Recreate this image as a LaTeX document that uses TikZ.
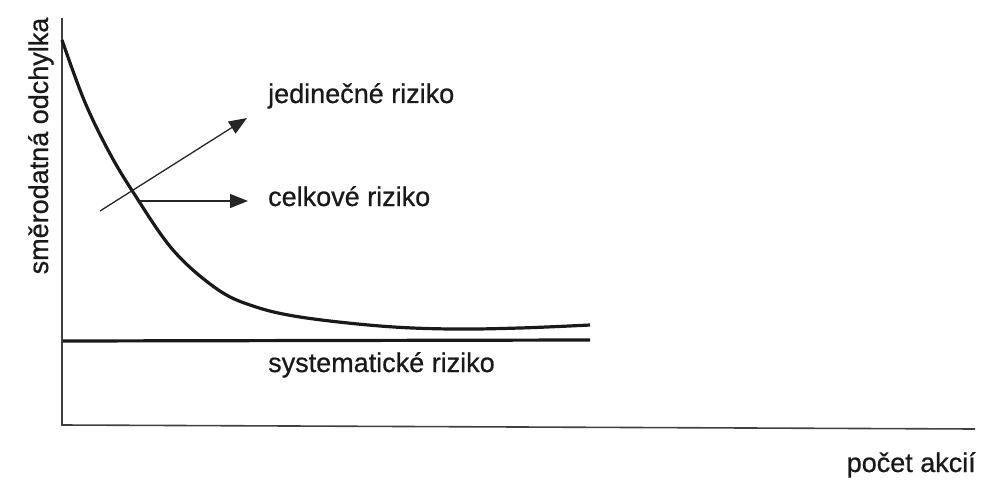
\documentclass[tikz,border=0pt]{standalone}
\usepackage{fontspec}
\setmainfont{Liberation Sans}
\newfontfamily\lblfont[FakeBold=0.7]{Liberation Sans}
\usetikzlibrary{arrows.meta}
\tikzset{
  lbl/.style={inner sep=0pt, font=\lblfont\fontsize{27}{32}\selectfont, text=black!90},
  axisline/.style={line width=1.6pt, draw=black!75},
  thick curve/.style={line width=3.2pt, draw=black!90, line cap=butt},
  pointer/.style={line width=1.3pt, draw=black!85, -{Triangle[length=18pt,width=14pt]}}
}
\begin{document}
\begin{tikzpicture}[x=1pt,y=-1pt]
\useasboundingbox (0,0) rectangle (981,481);
% axes
\coordinate (o) at (62,425);
\coordinate (ytop) at (62,18);
\coordinate (xend) at (975,429);
\draw[axisline] (ytop) -- (o) -- (xend);
% systematic risk line
\coordinate (s0) at (63,341);
\coordinate (s1) at (590,340);
\draw[thick curve] (s0) -- (s1);
% total risk curve
\draw[thick curve] plot[smooth, tension=0.6] coordinates {(62,40) (84,100) (108,150) (133,192) (173,250) (217,289) (253,306) (300,317) (380,326) (450,329) (520,328) (590,325)};
% labels
\node[lbl, anchor=base west] (jed) at (268,103) {jedinečné riziko};
\node[lbl, anchor=base west] (cel) at (268,206) {celkové riziko};
\node[lbl, anchor=base west] (sys) at (268,372) {systematické riziko};
\node[lbl, anchor=base east] (pocet) at (976,472) {počet akcií};
\node[lbl, anchor=base, rotate=90] (ylab) at (48,146) {směrodatná odchylka};
% arrows
\coordinate (a0) at (100,211);
\coordinate (a1) at (247,118);
\coordinate (b0) at (140,201);
\coordinate (b1) at (248,201);
\draw[pointer] (a0) -- (a1);
\draw[pointer] (b0) -- (b1);
\end{tikzpicture}
\end{document}
